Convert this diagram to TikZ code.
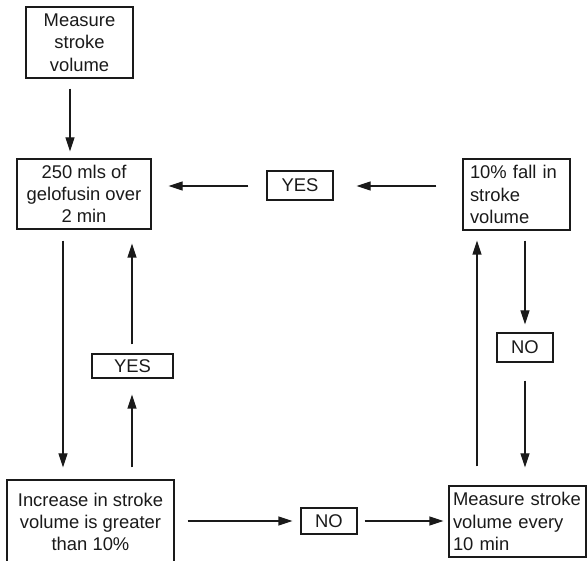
\documentclass[tikz,border=0pt]{standalone}
\usepackage{fontspec}
\setmainfont{Liberation Sans}
\usetikzlibrary{arrows.meta}
\definecolor{ink}{HTML}{1A1A1A}
\begin{document}
\begin{tikzpicture}[x=1pt,y=-1pt,
  box/.style={draw=ink, line width=1.3pt, text=ink,
    font=\fontsize{18.4}{22.3}\selectfont, inner sep=0pt, align=center},
  lbox/.style={box, align=left},
  tag/.style={draw=ink, line width=1.3pt, text=ink,
    font=\fontsize{18.4}{22}\selectfont, inner sep=0pt},
  arr/.style={draw=ink, line width=1.3pt, -{Triangle[length=14pt,width=9pt]}}]
\clip (0,0) rectangle (587,561);

% process boxes
\node[box, minimum width=107pt, minimum height=71pt] (m1) at (79.5,42.5)
  {Measure\\stroke\\volume};
\node[box, minimum width=134pt, minimum height=70pt] (g) at (84,194)
  {250 mls of\\gelofusin over\\2 min};
\node[lbox, text width=93pt, inner xsep=7pt, minimum height=71pt] (f) at (516.5,194.5)
  {10\% fall in\\stroke\\volume};
\node[box, minimum width=167pt, minimum height=84pt] (inc) at (90.5,522)
  {Increase in stroke\\volume is greater\\than 10\%};
\node[lbox, text width=129pt, inner xsep=4pt, minimum height=71pt] (m5) at (517.5,521.5)
  {Measure stroke\\volume every\\10 min};

% decision labels
\node[tag, minimum width=66pt, minimum height=29pt] (yes2) at (300,185.5) {YES};
\node[tag, minimum width=81pt, minimum height=24pt] (yes1) at (132.5,366) {YES};
\node[tag, minimum width=56pt, minimum height=26pt] (no1) at (329,521) {NO};
\node[tag, minimum width=56pt, minimum height=29pt] (no2) at (525,347.5) {NO};

% connectors
\draw[arr, shorten <=10pt, shorten >=7pt] (m1.south -| 70,0) -- (g.north -| 70,0);
\draw[arr, shorten <=11pt, shorten >=12pt] (g.south -| 63,0) -- (inc.north -| 63,0);
\draw[arr, shorten <=12pt, shorten >=16pt] (inc.north -| 132,0) -- (yes1.south -| 132,0);
\draw[arr, shorten <=9pt, shorten >=14pt] (yes1.north -| 132,0) -- (g.south -| 132,0);
\draw[arr, shorten <=13pt, shorten >=8pt] (inc.east |- 0,521) -- (no1.west |- 0,521);
\draw[arr, shorten <=7pt, shorten >=5pt] (no1.east |- 0,521) -- (m5.west |- 0,521);
\draw[arr, shorten <=19pt, shorten >=10pt] (m5.north -| 477,0) -- (f.south -| 477,0);
\draw[arr, shorten <=10pt, shorten >=8pt] (f.south -| 525,0) -- (no2.north -| 525,0);
\draw[arr, shorten <=18pt, shorten >=18pt] (no2.south -| 525,0) -- (m5.north -| 525,0);
\draw[arr, shorten <=26pt, shorten >=23pt] (f.west |- 0,186) -- (yes2.east |- 0,186);
\draw[arr, shorten <=18pt, shorten >=17pt] (yes2.west |- 0,186) -- (g.east |- 0,186);
\end{tikzpicture}
\end{document}
